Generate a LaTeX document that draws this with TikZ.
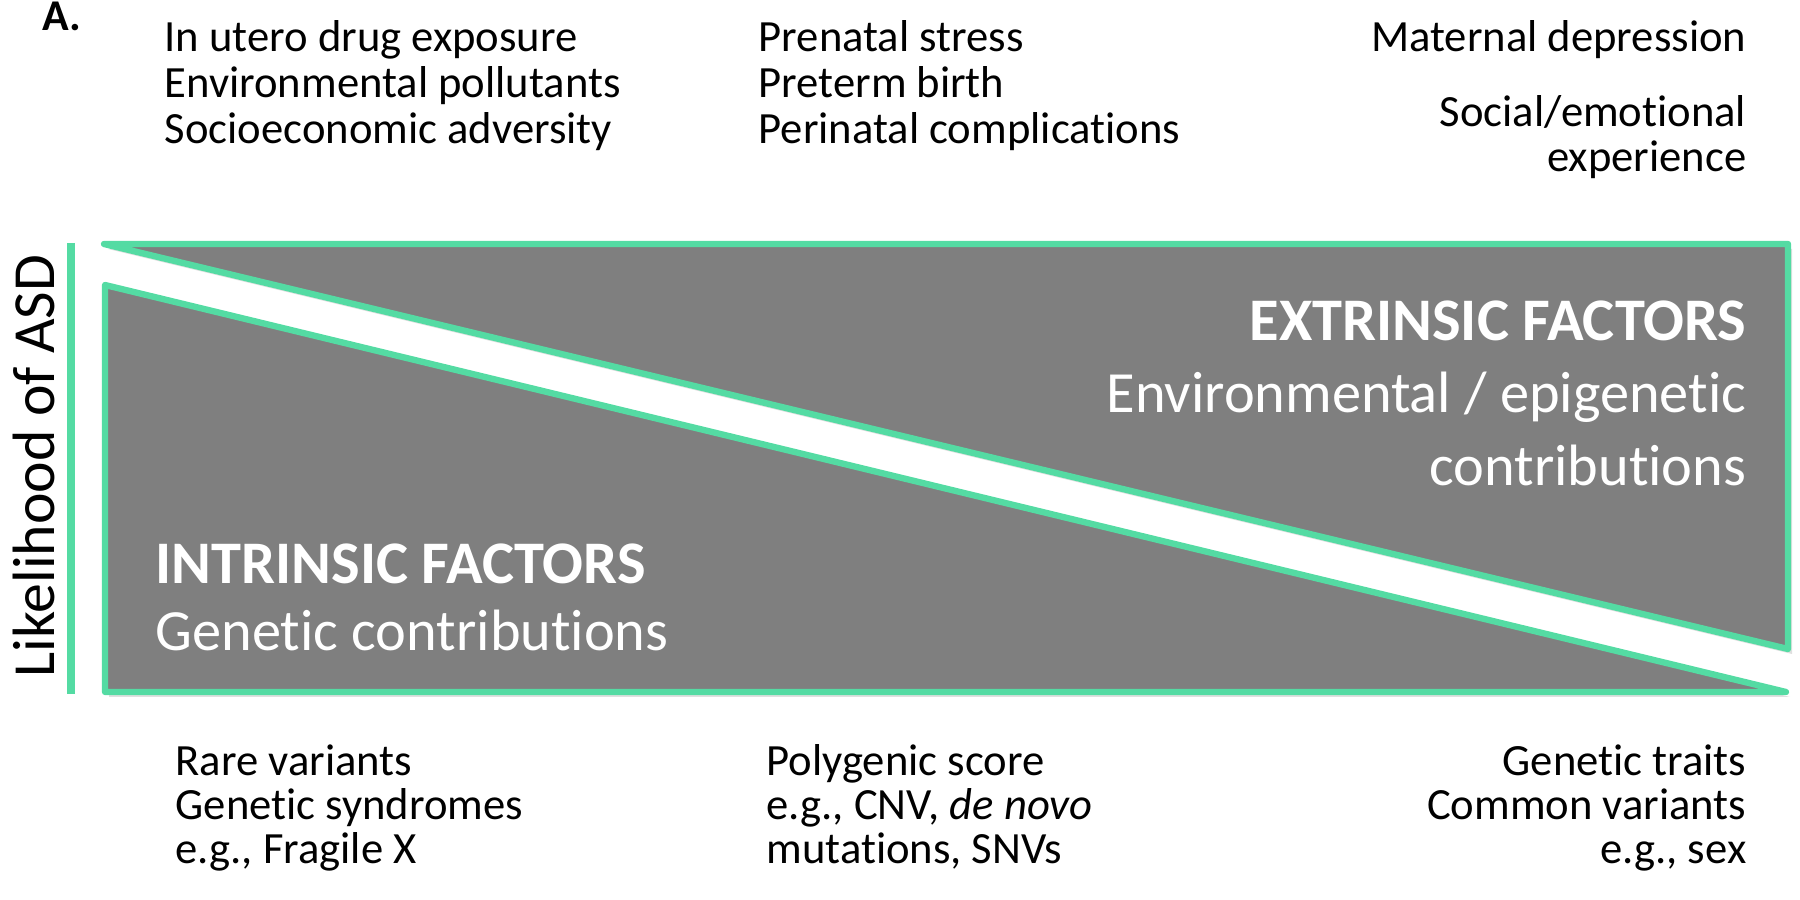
\documentclass[tikz,border=0pt]{standalone}
\usepackage{fontspec}
\setmainfont{Carlito}[Ligatures=NoCommon]
\usepackage{tikz}
\usetikzlibrary{positioning,shadows}
\definecolor{asdgreen}{RGB}{84,219,163}
\definecolor{asdgray}{RGB}{127,127,127}

\begin{document}
\begin{tikzpicture}[
  factor/.style={font=\fontsize{12.7}{14}\selectfont, inner sep=0pt},
  inner/.style={font=\fontsize{16.6}{19}\selectfont, text=white, inner sep=0pt},
  wedge/.style={draw=asdgreen, fill=asdgray, line width=1.8pt, line join=round,
    drop shadow={opacity=0.25, shadow xshift=0.04, shadow yshift=-0.05}}
]
  \useasboundingbox (0,0) rectangle (18,9);

  \node[anchor=base west, inner sep=0pt, font=\fontsize{12.5}{14}\selectfont\bfseries] (panel) at (0.42,8.69) {A.};

  % extrinsic risk factors, top
  \node[factor, anchor=base west] (drug) at (1.64,8.48) {In utero drug exposure};
  \node[factor, below=0.46cm of drug.base west, anchor=base west] (pollut) {Environmental pollutants};
  \node[factor, below=0.46cm of pollut.base west, anchor=base west] (socio) {Socioeconomic adversity};

  \node[factor, anchor=base west] (stress) at (7.58,8.48) {Prenatal stress};
  \node[factor, below=0.46cm of stress.base west, anchor=base west] (preterm) {Preterm birth};
  \node[factor, below=0.46cm of preterm.base west, anchor=base west] (perinat) {Perinatal complications};

  \node[factor, anchor=base east] (matdep) at (17.47,8.48) {Maternal depression};
  \node[factor, below=0.75cm of matdep.base east, anchor=base east] (social) {Social/emotional};
  \node[factor, below=0.445cm of social.base east, anchor=base east] (exper) {experience};

  % the two wedges
  \draw[wedge] (1.04,6.56) -- (17.88,6.56) -- (17.88,2.51) -- cycle;
  \draw[wedge] (1.05,6.15) -- (1.05,2.08) -- (17.86,2.08) -- cycle;

  % likelihood axis
  \draw[asdgreen, line width=2.3pt] (0.71,6.57) -- (0.71,2.06);
  \node[rotate=90, inner sep=0pt, font=\fontsize{17}{20}\selectfont] (likely) at (0.34,4.34) {Likelihood of ASD};

  \node[inner, anchor=base east, font=\fontsize{17.2}{19}\selectfont\bfseries] (extr) at (17.47,5.59) {EXTRINSIC FACTORS};
  \node[inner, below=0.72cm of extr.base east, anchor=base east] (envir) {Environmental / epigenetic};
  \node[inner, below=0.73cm of envir.base east, anchor=base east] (contr) {contributions};

  \node[inner, anchor=base west, font=\fontsize{17.2}{19}\selectfont\bfseries] (intr) at (1.55,3.16) {INTRINSIC FACTORS};
  \node[inner, below=0.67cm of intr.base west, anchor=base west] (genet) {Genetic contributions};

  % intrinsic risk factors, bottom
  \node[factor, anchor=base west] (rare) at (1.75,1.24) {Rare variants};
  \node[factor, below=0.44cm of rare.base west, anchor=base west] (syndr) {Genetic syndromes};
  \node[factor, below=0.44cm of syndr.base west, anchor=base west] (fragx) {e.g., Fragile X};

  \node[factor, anchor=base west] (polyg) at (7.66,1.24) {Polygenic score};
  \node[factor, below=0.44cm of polyg.base west, anchor=base west] (cnv) {e.g., CNV, \textit{de novo}};
  \node[factor, below=0.44cm of cnv.base west, anchor=base west] (snv) {mutations, SNVs};

  \node[factor, anchor=base east] (traits) at (17.47,1.24) {Genetic traits};
  \node[factor, below=0.44cm of traits.base east, anchor=base east] (common) {Common variants};
  \node[factor, below=0.44cm of common.base east, anchor=base east] (sex) {e.g., sex};
\end{tikzpicture}
\end{document}
